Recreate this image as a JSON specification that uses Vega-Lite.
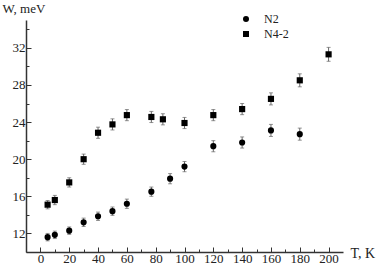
{
  "$schema": "https://vega.github.io/schema/vega-lite/v6.json",
  "width": 317,
  "height": 232,
  "autosize": "none",
  "padding": {"left": 26, "top": 20, "right": 39, "bottom": 18},
  "background": "white",
  "config": {
    "view": {"stroke": null},
    "font": "Liberation Serif",
    "axis": {"grid": false, "domainColor": "#333", "domainWidth": 1.5, "tickColor": "#333", "labelFont": "Liberation Serif", "titleFont": "Liberation Serif", "labelColor": "#222", "titleColor": "#222", "labelFontSize": 13, "titleFontSize": 13, "titleFontWeight": "normal"}
  },
  "data": {
    "values": [
      {"T": 5, "W": 11.6, "err": 0.4, "s": "N2"},
      {"T": 10, "W": 11.85, "err": 0.4, "s": "N2"},
      {"T": 20, "W": 12.3, "err": 0.4, "s": "N2"},
      {"T": 30, "W": 13.2, "err": 0.45, "s": "N2"},
      {"T": 40, "W": 13.85, "err": 0.45, "s": "N2"},
      {"T": 50, "W": 14.4, "err": 0.45, "s": "N2"},
      {"T": 60, "W": 15.2, "err": 0.5, "s": "N2"},
      {"T": 77, "W": 16.5, "err": 0.5, "s": "N2"},
      {"T": 90, "W": 17.9, "err": 0.55, "s": "N2"},
      {"T": 100, "W": 19.2, "err": 0.55, "s": "N2"},
      {"T": 120, "W": 21.4, "err": 0.6, "s": "N2"},
      {"T": 140, "W": 21.8, "err": 0.6, "s": "N2"},
      {"T": 160, "W": 23.1, "err": 0.65, "s": "N2"},
      {"T": 180, "W": 22.7, "err": 0.65, "s": "N2"},
      {"T": 5, "W": 15.1, "err": 0.45, "s": "N4-2"},
      {"T": 10, "W": 15.6, "err": 0.5, "s": "N4-2"},
      {"T": 20, "W": 17.5, "err": 0.5, "s": "N4-2"},
      {"T": 30, "W": 20.0, "err": 0.55, "s": "N4-2"},
      {"T": 40, "W": 22.85, "err": 0.6, "s": "N4-2"},
      {"T": 50, "W": 23.75, "err": 0.6, "s": "N4-2"},
      {"T": 60, "W": 24.75, "err": 0.6, "s": "N4-2"},
      {"T": 77, "W": 24.55, "err": 0.6, "s": "N4-2"},
      {"T": 85, "W": 24.3, "err": 0.6, "s": "N4-2"},
      {"T": 100, "W": 23.9, "err": 0.6, "s": "N4-2"},
      {"T": 120, "W": 24.75, "err": 0.6, "s": "N4-2"},
      {"T": 140, "W": 25.4, "err": 0.6, "s": "N4-2"},
      {"T": 160, "W": 26.5, "err": 0.65, "s": "N4-2"},
      {"T": 180, "W": 28.5, "err": 0.7, "s": "N4-2"},
      {"T": 200, "W": 31.3, "err": 0.75, "s": "N4-2"}
    ]
  },
  "encoding": {
    "x": {
      "field": "T", "type": "quantitative",
      "scale": {"domain": [-10, 210], "nice": false, "zero": false},
      "axis": {
        "values": [0,10,20,30,40,50,60,70,80,90,100,110,120,130,140,150,160,170,180,190,200],
        "labelExpr": "datum.value % 20 === 0 ? datum.label : ''",
        "tickSize": {"condition": {"test": "datum.value % 20 === 0", "value": -5}, "value": -3},
        "labelPadding": 5,
        "labelFlush": false,
        "title": "T, K",
        "titleAngle": 0,
        "titleX": 324,
        "titleY": 1,
        "titleAlign": "left",
        "titleBaseline": "middle",
        "titleFontSize": 14
      }
    },
    "y": {
      "field": "W", "type": "quantitative",
      "scale": {"domain": [10, 35], "nice": false, "zero": false},
      "axis": {
        "values": [10,12,14,16,18,20,22,24,26,28,30,32,34],
        "labelExpr": "datum.value % 4 === 0 ? datum.label : ''",
        "tickSize": {"condition": {"test": "datum.value % 4 === 0", "value": -5}, "value": -3},
        "labelPadding": 6,
        "labelFlush": false,
        "title": "W, meV",
        "titleAngle": 0,
        "titleX": -24,
        "titleY": -12,
        "titleAlign": "left",
        "titleBaseline": "middle"
      }
    }
  },
  "layer": [
    {
      "mark": {"type": "errorbar", "ticks": {"size": 4, "color": "#666"}, "rule": {"color": "#666"}},
      "encoding": {
        "yError": {"field": "err"},
        "detail": {"field": "s"}
      }
    },
    {
      "mark": {"type": "point", "filled": true, "opacity": 1, "color": "black", "size": 38},
      "encoding": {
        "shape": {
          "field": "s", "type": "nominal",
          "scale": {"domain": ["N2", "N4-2"], "range": ["circle", "square"]},
          "legend": {
            "title": null,
            "orient": "none",
            "legendX": 214,
            "legendY": -7,
            "labelFont": "Liberation Serif",
            "labelFontSize": 12,
            "labelColor": "#222",
            "symbolFillColor": "black",
            "symbolStrokeColor": "black",
            "symbolSize": 36,
            "labelOffset": 12,
            "rowPadding": 3
          }
        }
      }
    }
  ]
}
